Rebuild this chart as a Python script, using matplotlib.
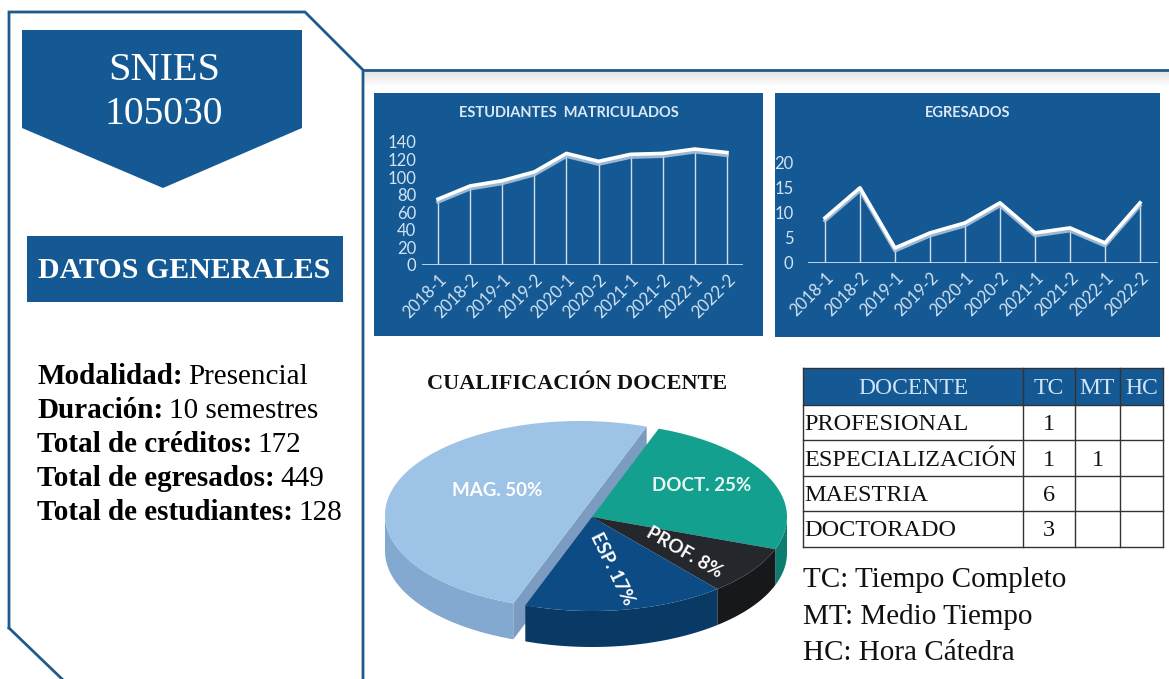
import numpy as np
import matplotlib
matplotlib.use("Agg")
import matplotlib.pyplot as plt
import matplotlib.patheffects as pe
from matplotlib.patches import Polygon, Rectangle

W, H = 1169, 679

# ---------------------------------------------------------------------------
# datos
# ---------------------------------------------------------------------------
semestres = ["2018-1", "2018-2", "2019-1", "2019-2", "2020-1",
             "2020-2", "2021-1", "2021-2", "2022-1", "2022-2"]
matriculados = [75, 90, 96, 106, 127, 118, 126, 127, 132, 128]
egresados = [9, 15, 3, 6, 8, 12, 6, 7, 4, 12]

niveles = ["PROFESIONAL", "ESPECIALIZACIÓN", "MAESTRIA", "DOCTORADO"]
doc_tc = [1, 1, 6, 3]
doc_mt = [0, 1, 0, 0]
doc_hc = [0, 0, 0, 0]
pie_nombres = ["PROF.", "ESP.", "MAG.", "DOCT."]
pie_orden = [3, 0, 1, 2]          # sentido horario desde arriba

datos_generales = [("Modalidad:", "Presencial"),
                   ("Duración:", "10 semestres"),
                   ("Total de créditos:", "172"),
                   ("Total de egresados:", "449"),
                   ("Total de estudiantes:", "128")]
leyenda = ["TC: Tiempo Completo", "MT: Medio Tiempo", "HC: Hora Cátedra"]

# estilos
AZUL = "#145993"
BORDE = "#1f5a8a"
SERIF = "Liberation Serif"
SANS = "Lato"
pie_top = ["#24272b", "#0c4b83", "#9dc3e6", "#14a08f"]
pie_lado = ["#16181b", "#093a66", "#83a9d0", "#0d7d70"]
pie_rot = [-30, -64, 0, 0]
pie_frac = [0.58, 0.6, 0.45, 0.62]
pie_dy = [4, -4, -10, -7]
pie_txt = ["white", "white", "white", "#e8f7f4"]


def px_rect(x0, y0, x1, y1):
    return [x0 / W, 1 - y1 / H, (x1 - x0) / W, (y1 - y0) / H]


fig = plt.figure(figsize=(W / 100, H / 100), dpi=100)
bg = fig.add_axes([0, 0, 1, 1])
bg.set_xlim(0, W)
bg.set_ylim(H, 0)
bg.axis("off")

# ---------------------------------------------------------------------------
# panel izquierdo
# ---------------------------------------------------------------------------
bg.plot([9, 9, 305, 363, 363], [628, 12, 12, 70, H], color=BORDE, lw=2, solid_joinstyle="miter")
bg.plot([9, 62], [628, H], color=BORDE, lw=2)
bg.add_patch(Polygon([(22, 30), (302, 30), (302, 128), (163, 188), (22, 128)],
                     closed=True, color=AZUL, lw=0))
bg.text(164, 70, "SNIES", ha="center", va="center", color="white",
        family=SERIF, fontsize=29)
bg.text(164, 115, "105030", ha="center", va="center", color="white",
        family=SERIF, fontsize=28.5)
bg.add_patch(Rectangle((27, 236), 316, 66, color=AZUL, lw=0))
bg.text(184, 270, "DATOS GENERALES", ha="center", va="center", color="white",
        family=SERIF, fontsize=21.5, weight="bold")

for i, (k, v) in enumerate(datos_generales):
    t = bg.text(37, 376 + i * 34, k, ha="left", va="center", color="black",
                family=SERIF, fontsize=21, weight="bold")
    bg.annotate(v, xy=(1, 0), xycoords=t, xytext=(4, 0), textcoords="offset points",
                ha="left", va="bottom", color="black", family=SERIF, fontsize=21)

# ---------------------------------------------------------------------------
# panel derecho: línea superior con sombra
# ---------------------------------------------------------------------------
for j in range(14):
    bg.add_patch(Rectangle((364, 72 + j), W - 364, 1, color="#c8c8c8",
                           alpha=0.45 * (1 - j / 14), lw=0))
bg.plot([363, W], [70, 70], color=BORDE, lw=2)


def panel_linea(caja, area, valores, ymax, paso, titulo, ypad):
    x0, y0, x1, y1 = caja
    bg.add_patch(Rectangle((x0, y0), x1 - x0, y1 - y0, color=AZUL, lw=0))
    bg.text((x0 + x1) / 2, 113, titulo, ha="center", va="center", color="#dbe9f6",
            family=SANS, fontsize=10.5, weight="bold")
    ax = fig.add_axes(px_rect(*area))
    ax.patch.set_alpha(0)
    x = np.arange(len(semestres))
    ax.vlines(x, 0, valores, color="white", lw=1, alpha=0.8)
    ax.plot(x, valores, color="white", lw=2.6, clip_on=False,
            path_effects=[pe.SimpleLineShadow(offset=(0, -2), shadow_color="#a9c3de", alpha=0.9),
                          pe.Normal()])
    ax.axhline(0, color="#c9dbee", lw=1.3)
    ax.set_xlim(-0.5, len(semestres) - 0.5)
    ax.set_ylim(0, ymax)
    ax.set_yticks(range(0, ymax + 1, paso))
    ax.set_xticks(x, semestres, rotation=45, ha="right", rotation_mode="anchor")
    for s in ax.spines.values():
        s.set_visible(False)
    ax.tick_params(length=0, colors="#d3e3f3", labelsize=12)
    ax.tick_params(axis="y", pad=ypad)
    ax.tick_params(axis="x", pad=5)
    for lab in ax.get_xticklabels() + ax.get_yticklabels():
        lab.set_family(SANS)
    return ax


panel_linea((374, 93, 763, 336), (422, 142, 743, 265), matriculados, 140, 20,
            "ESTUDIANTES  MATRICULADOS", 4)
panel_linea((775, 93, 1160, 337), (807.5, 162.7, 1157.5, 263), egresados, 20, 5,
            "EGRESADOS", 10)

# ---------------------------------------------------------------------------
# torta 3D
# ---------------------------------------------------------------------------
bg.text(577, 384, "CUALIFICACIÓN DOCENTE", ha="center", va="center", color="#111111",
        family=SERIF, fontsize=16, weight="bold")

CX, CY, RX, RY, DEPTH = 592, 517, 195, 94, 36
INICIO = 70
cuentas = [tc + mt + hc for tc, mt, hc in zip(doc_tc, doc_mt, doc_hc)]
total = sum(cuentas)
desplaza = {2: (-12, -2)}


def borde(cx, cy, a0, a1, dy=0, n=80):
    t = np.radians(np.linspace(a0, a1, n))
    return np.column_stack([cx + RX * np.cos(t), cy + dy - RY * np.sin(t)])


rebanadas = {}
a = INICIO
for i in pie_orden:
    span = 360 * cuentas[i] / total
    rebanadas[i] = (a, a - span)
    a -= span


def dibujar(i, caras=False):
    hi, lo = rebanadas[i]
    dx, dy = desplaza.get(i, (0, 0))
    cx, cy = CX + dx, CY + dy
    if caras:
        for ang in (hi, lo):
            p = borde(cx, cy, ang, ang, n=1)[0]
            bg.add_patch(Polygon([(cx, cy), p, (p[0], p[1] + DEPTH), (cx, cy + DEPTH)],
                                 closed=True, color="#7b9cc0", lw=0))
    for k in (-1, 0, 1):
        a0, a1 = max(lo, -180 + 360 * k), min(hi, 360 * k)
        if a0 < a1:
            arriba = borde(cx, cy, a0, a1)
            abajo = borde(cx, cy, a1, a0, dy=DEPTH)
            bg.add_patch(Polygon(np.vstack([arriba, abajo]), closed=True,
                                 color=pie_lado[i], lw=0))
    cima = np.vstack([[cx, cy], borde(cx, cy, hi, lo, n=120)])
    bg.add_patch(Polygon(cima, closed=True, color=pie_top[i], lw=0))
    mid = np.radians((hi + lo) / 2)
    f = pie_frac[i]
    pct = round(100 * cuentas[i] / total)
    bg.text(cx + f * RX * np.cos(mid), cy - f * RY * np.sin(mid) + pie_dy[i],
            f"{pie_nombres[i]} {pct}%", ha="center", va="center", color=pie_txt[i],
            rotation=pie_rot[i], family=SANS, fontsize=13.5, weight="bold", zorder=5)


for i in desplaza:
    dibujar(i, caras=True)
for i in pie_orden:
    if i not in desplaza:
        dibujar(i)

# ---------------------------------------------------------------------------
# tabla docente
# ---------------------------------------------------------------------------
col_x = [803, 1023, 1075, 1120, 1163]
fila_y = [368, 405, 440, 476, 511, 547]
encabezado = ["DOCENTE", "TC", "MT", "HC"]

bg.add_patch(Rectangle((col_x[0], fila_y[0]), col_x[-1] - col_x[0], fila_y[1] - fila_y[0],
                       color=AZUL, lw=0))
for y in fila_y:
    bg.plot([col_x[0], col_x[-1]], [y, y], color="#333333", lw=1)
for x in col_x:
    bg.plot([x, x], [fila_y[0], fila_y[-1]], color="#333333", lw=1)
for j, h in enumerate(encabezado):
    bg.text((col_x[j] + col_x[j + 1]) / 2, (fila_y[0] + fila_y[1]) / 2 + 2, h,
            ha="center", va="center", color="#cfe4f7", family=SERIF, fontsize=17)
for r, nivel in enumerate(niveles):
    yc = (fila_y[r + 1] + fila_y[r + 2]) / 2 + 2
    bg.text(col_x[0] + 1, yc, nivel, ha="left", va="center", color="#111111",
            family=SERIF, fontsize=17.5)
    for j, col in enumerate((doc_tc, doc_mt, doc_hc)):
        if col[r]:
            bg.text((col_x[j + 1] + col_x[j + 2]) / 2, yc, str(col[r]), ha="center",
                    va="center", color="#111111", family=SERIF, fontsize=17.5)

for i, linea in enumerate(leyenda):
    bg.text(803, 580 + i * 36.5, linea, ha="left", va="center", color="#111111",
            family=SERIF, fontsize=21)

fig.savefig("out.png", dpi=100, facecolor="white")
